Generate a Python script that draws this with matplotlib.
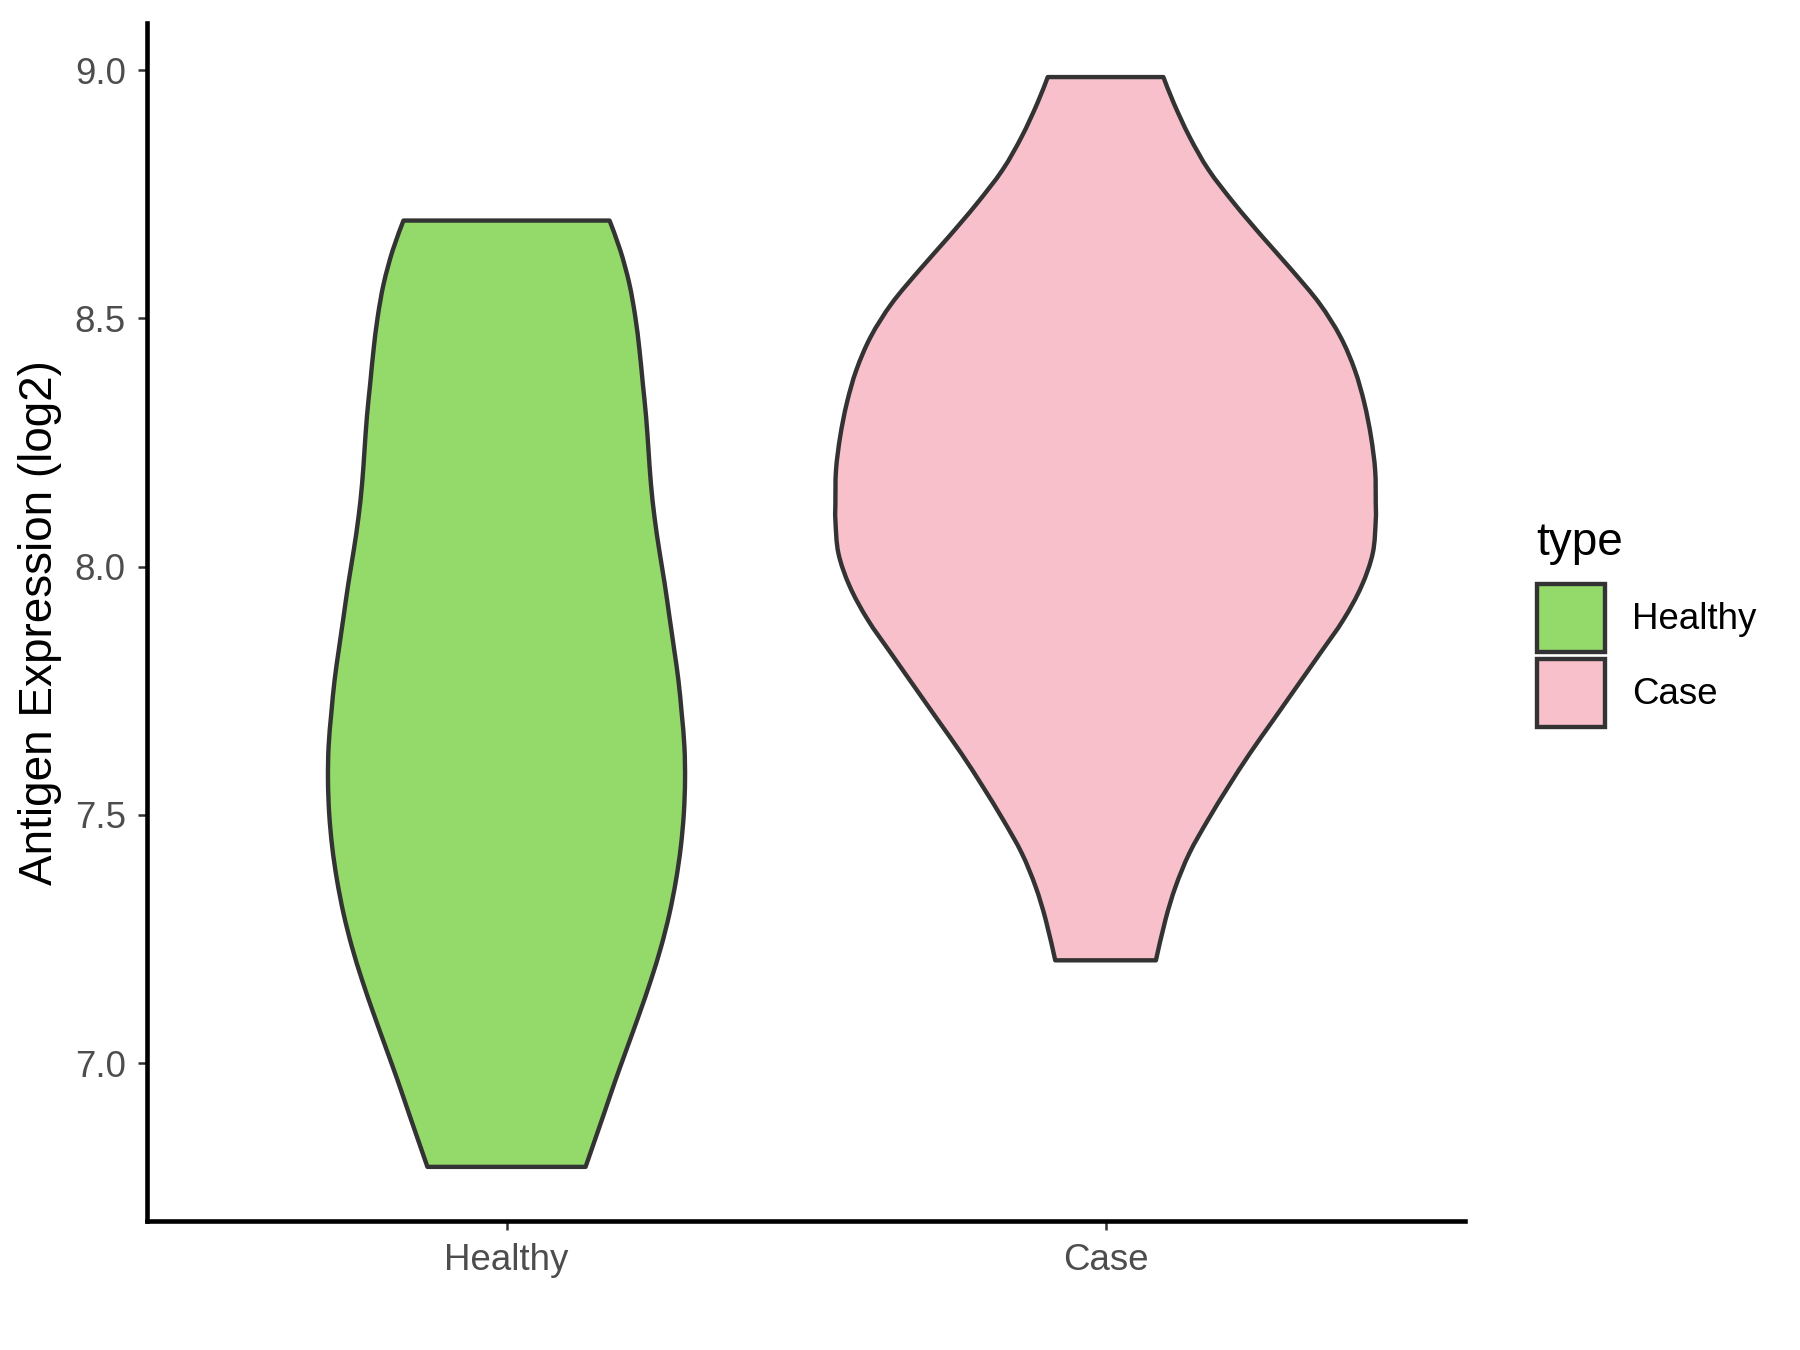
"""
Violin plot of antigen expression (log2), Healthy vs Case, ggplot-like style.

The violin outlines are read off the reference figure as half-widths
(in x-axis units) at a set of expression levels.
"""

import matplotlib
matplotlib.use("Agg")
import matplotlib.pyplot as plt
from matplotlib.patches import Patch, PathPatch
from matplotlib.path import Path
import numpy as np

plt.rcParams["font.family"] = ["Liberation Sans", "DejaVu Sans"]

CATEGORIES = ["Healthy", "Case"]
COLORS = ["#93DA6A", "#F8C0CB"]
EDGE = "#333333"

# Healthy violin: expression level and half-width
HEALTHY_Y = [8.697, 8.637, 8.570, 8.503, 8.436, 8.369, 8.302, 8.235, 8.168,
             8.100, 8.033, 7.966, 7.899, 7.832, 7.771, 7.704, 7.637, 7.570,
             7.503, 7.436, 7.369, 7.301, 7.234, 7.167, 7.100, 7.033, 6.966,
             6.899, 6.831, 6.791]
HEALTHY_HW = [0.172, 0.190, 0.205, 0.215, 0.222, 0.2275, 0.233, 0.237, 0.241,
              0.247, 0.255, 0.264, 0.272, 0.280, 0.287, 0.2925, 0.297, 0.298,
              0.296, 0.291, 0.283, 0.272, 0.258, 0.241, 0.222, 0.202, 0.182,
              0.163, 0.1435, 0.132]

# Case violin
CASE_Y = [8.986, 8.933, 8.866, 8.799, 8.731, 8.664, 8.597, 8.530, 8.463,
          8.396, 8.329, 8.262, 8.194, 8.127, 8.094, 8.027, 7.960, 7.893,
          7.825, 7.758, 7.691, 7.624, 7.557, 7.490, 7.423, 7.356, 7.289,
          7.207]
CASE_HW = [0.0965, 0.114, 0.140, 0.172, 0.215, 0.262, 0.311, 0.357, 0.392,
           0.416, 0.432, 0.443, 0.450, 0.451, 0.451, 0.446, 0.427, 0.397,
           0.358, 0.319, 0.280, 0.241, 0.205, 0.171, 0.140, 0.117, 0.100,
           0.084]

Y_TICKS = [7.0, 7.5, 8.0, 8.5, 9.0]
Y_LABEL = "Antigen Expression (log2)"
LEGEND_TITLE = "type"

LW = 1.05


def smooth_segments(pts):
    """Catmull-Rom -> cubic Bezier control points through pts (N x 2)."""
    p = np.vstack([pts[0], pts, pts[-1]])
    verts = []
    for i in range(1, len(p) - 2):
        c1 = p[i] + (p[i + 1] - p[i - 1]) / 6.0
        c2 = p[i + 1] - (p[i + 2] - p[i]) / 6.0
        verts += [c1, c2, p[i + 1]]
    return verts


def violin_path(pos, ys, hw):
    ys = np.asarray(ys)
    hw = np.asarray(hw)
    right = np.column_stack([pos + hw, ys])            # top -> bottom
    left = np.column_stack([pos - hw, ys])[::-1]       # bottom -> top

    verts = [left[-1], right[0]]
    codes = [Path.MOVETO, Path.LINETO]
    seg = smooth_segments(right)
    verts += seg
    codes += [Path.CURVE4] * len(seg)
    verts.append(left[0])
    codes.append(Path.LINETO)
    seg = smooth_segments(left)
    verts += seg
    codes += [Path.CURVE4] * len(seg)
    verts.append(left[-1])
    codes.append(Path.CLOSEPOLY)
    return Path(np.asarray(verts), codes)


def main() -> None:
    fig = plt.figure(figsize=(6, 4.5), dpi=300)
    ax = fig.add_axes([0.0817, 0.0952, 0.8139 - 0.0817, 0.983 - 0.0952])

    profiles = [(HEALTHY_Y, HEALTHY_HW), (CASE_Y, CASE_HW)]
    for pos, ((ys, hw), color) in enumerate(zip(profiles, COLORS), start=1):
        patch = PathPatch(violin_path(pos, ys, hw), facecolor=color,
                          edgecolor=EDGE, linewidth=LW, joinstyle="round")
        ax.add_patch(patch)

    ax.set_xlim(0.4, 2.6)
    ax.set_ylim(6.681, 9.095)
    ax.set_xticks([1, 2])
    ax.set_xticklabels(CATEGORIES)
    ax.set_yticks(Y_TICKS)
    ax.set_yticklabels([f"{v:.1f}" for v in Y_TICKS])

    for side in ("top", "right"):
        ax.spines[side].set_visible(False)
    for side in ("left", "bottom"):
        ax.spines[side].set_linewidth(1.1)
        ax.spines[side].set_color("black")

    ax.tick_params(axis="both", length=2.2, width=0.6, color=EDGE,
                   labelsize=8.8, labelcolor="#4D4D4D", pad=2.9)
    ax.set_ylabel(Y_LABEL, fontsize=11, color="black", labelpad=3)

    # legend: title as its own text so its gap to the keys matches ggplot
    fig.text(0.8533, 1 - 555 / 1350, LEGEND_TITLE, fontsize=11,
             va="baseline", ha="left")
    handles = [Patch(facecolor=c, edgecolor=EDGE, linewidth=LW, label=l)
               for c, l in zip(COLORS, CATEGORIES)]
    fig.legend(handles=handles, loc="upper left",
               bbox_to_anchor=(0.8539, 1 - 584 / 1350), frameon=False,
               fontsize=8.8, handlelength=1.85, handleheight=2.47,
               labelspacing=0.19, handletextpad=0.74,
               borderpad=0, borderaxespad=0)

    fig.savefig("out.png", dpi=300)
    plt.close(fig)


if __name__ == "__main__":
    main()
